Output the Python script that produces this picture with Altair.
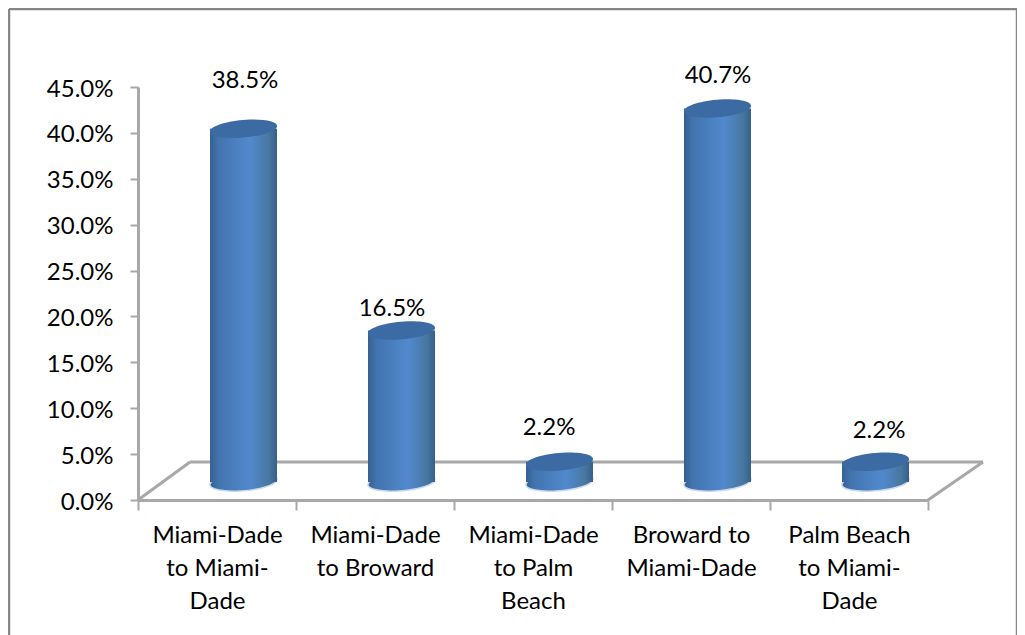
import altair as alt
import pandas as pd

categories = ["Miami-Dade|to Miami-|Dade", "Miami-Dade|to Broward", "Miami-Dade|to Palm|Beach",
              "Broward to|Miami-Dade", "Palm Beach|to Miami-|Dade"]
values = [0.385, 0.165, 0.022, 0.407, 0.022]
labels = ["38.5%", "16.5%", "2.2%", "40.7%", "2.2%"]
label_dx = [28, 17, 16, 27, 30]
label_dy = [-66, -40, -52, -50, -49]
y_ticks = [0, .05, .10, .15, .20, .25, .30, .35, .40, .45]

FONT = "Lato"
GRAY = "#A8A8A8"
df = pd.DataFrame({"cat": categories, "val": values, "lab": labels})
one = pd.DataFrame({"a": [0]})

x = alt.X("cat:N", sort=categories, scale=alt.Scale(paddingInner=0, paddingOuter=0),
          axis=alt.Axis(title=None, labelAngle=0, labelAlign="center", labelBaseline="top",
                        labelExpr="split(datum.label,'|')", labelFontSize=24, labelFont=FONT,
                        labelColor="#000000", labelLineHeight=33, labelPadding=13, labelLimit=300,
                        tickBand="extent", tickSize=10, tickColor=GRAY, tickWidth=2,
                        domainColor=GRAY, domainWidth=3, labelOverlap=False))
y = alt.Y("val:Q", scale=alt.Scale(domain=[0, 0.45], nice=False),
          axis=alt.Axis(title=None, values=y_ticks, format=".1%", grid=False, labelFontSize=24,
                        labelFont=FONT, labelColor="#000000", tickSize=8, tickColor=GRAY, tickWidth=2,
                        domainColor=GRAY, domainWidth=3, labelPadding=17, labelOffset=2))


def seg(x1, y1, x2, y2, color=GRAY, w=3):
    # decoration line of the 3-D floor / chart frame, given in page pixels
    ox, oy = 138, 87
    if y1 == y2 or x1 == x2:
        enc = dict(x=alt.value(x1 - ox), y=alt.value(y1 - oy))
        if y1 == y2:
            enc["x2"] = alt.value(x2 - ox)
        else:
            enc["y2"] = alt.value(y2 - oy)
        return alt.Chart(one).mark_rule(color=color, strokeWidth=w).encode(**enc)
    return alt.Chart(one).mark_rule(color=color, strokeWidth=w).encode(
        x=alt.value(x1 - ox), x2=alt.value(x2 - ox), y=alt.value(y1 - oy), y2=alt.value(y2 - oy))


grad = alt.LinearGradient(gradient="linear", x1=0, x2=1, y1=0, y2=0, stops=[
    alt.GradientStop(offset=0, color="#35608F"),
    alt.GradientStop(offset=0.12, color="#4273AD"),
    alt.GradientStop(offset=0.6, color="#5289CE"),
    alt.GradientStop(offset=0.88, color="#47779F"),
    alt.GradientStop(offset=1, color="#375F8C"),
])
ELLIPSE = "M-1,0.06 A1,0.26 -5 1 1 1,-0.06 A1,0.26 -5 1 1 -1,0.06 Z"
BAR_W = 67
DX, DY = 26.5, -18

floor = [seg(190, 462, 983, 462), seg(138, 500, 190, 462), seg(928, 500, 983, 462)]
frame = [seg(9, 9, 1017, 9, "#868686", 2.5), seg(9, 9, 9, 635, "#868686", 2.5),
         seg(1017, 9, 1017, 635, "#868686", 2.5)]

bars = alt.Chart(df).mark_bar(width=BAR_W, xOffset=DX, yOffset=DY, fill=grad).encode(x=x, y=y)
bottom = alt.Chart(df).transform_calculate(base="0").mark_point(
    shape=ELLIPSE, size=BAR_W ** 2, filled=True, fill=grad, stroke="#C9D9EE", strokeWidth=1.5,
    opacity=1, xOffset=DX, yOffset=DY).encode(x=alt.X("cat:N", sort=categories), y=alt.Y("base:Q"))
top = alt.Chart(df).mark_point(
    shape=ELLIPSE, size=BAR_W ** 2, filled=True, fill="#3C6AA3", opacity=1,
    xOffset=DX, yOffset=DY).encode(x=alt.X("cat:N", sort=categories), y=alt.Y("val:Q"))

texts = [
    alt.Chart(df[df.index == i]).mark_text(fontSize=24, font=FONT, color="#000000",
                                           dx=label_dx[i], dy=label_dy[i]).encode(
        x=alt.X("cat:N", sort=categories), y=alt.Y("val:Q"), text="lab:N")
    for i in range(len(values))
]

chart = alt.layer(*frame, *floor, bottom, bars, top, *texts).properties(
    width=790, height=413,
    autosize=alt.AutoSizeParams(type="none"),
    padding={"left": 130, "top": 79, "right": 89, "bottom": 135},
    background="white",
).configure_view(stroke=None)

chart.save("out.html", embed_options={"renderer": "svg", "actions": False})
